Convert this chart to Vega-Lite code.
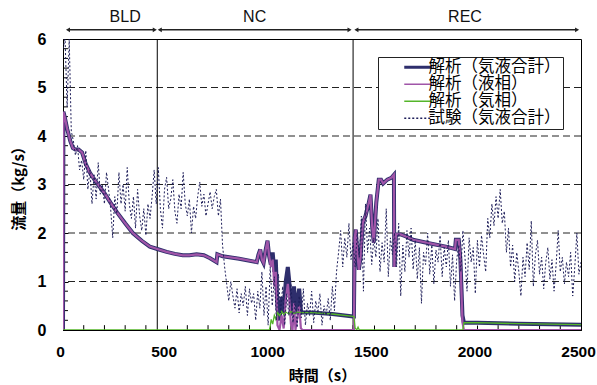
{
 "$schema": "https://vega.github.io/schema/vega-lite/v6.json",
 "width": 518, "height": 291,
 "autosize": "none",
 "padding": {"left": 63, "top": 39, "right": 16, "bottom": 55},
 "background": "white",
 "config": {"view": {"stroke": "black", "strokeWidth": 1}, "axis": {"labelOverlap": false, "labelFlush": false}},
 "datasets": {
  "gr": [{"y":1},{"y":2},{"y":3},{"y":4},{"y":5}],
  "ym": [{"y":0.2},{"y":0.4},{"y":0.6},{"y":0.8},{"y":1.2},{"y":1.4},{"y":1.6},{"y":1.8},{"y":2.2},{"y":2.4},{"y":2.6},{"y":2.8},{"y":3.2},{"y":3.4},{"y":3.6},{"y":3.8},{"y":4.2},{"y":4.4},{"y":4.6},{"y":4.8},{"y":5.2},{"y":5.4},{"y":5.6},{"y":5.8}],
  "xm": [{"t":100},{"t":200},{"t":300},{"t":400},{"t":600},{"t":700},{"t":800},{"t":900},{"t":1100},{"t":1200},{"t":1300},{"t":1400},{"t":1600},{"t":1700},{"t":1800},{"t":1900},{"t":2100},{"t":2200},{"t":2300},{"t":2400}],
  "bd": [{"t":455},{"t":1400}],
  "ph": [{"label":"BLD","a":24,"b":443,"m":300},{"label":"NC","a":467,"b":1383,"m":925},{"label":"REC","a":1416,"b":2481,"m":1940}],
  "total": [{"t":0,"v":0},{"t":2,"v":4.5},{"t":8,"v":4.4},{"t":20,"v":4.15},{"t":35,"v":3.9},{"t":48,"v":3.75},{"t":60,"v":3.72},{"t":75,"v":3.72},{"t":92,"v":3.66},{"t":110,"v":3.42},{"t":130,"v":3.24},{"t":155,"v":3.08},{"t":178,"v":2.95},{"t":200,"v":2.82},{"t":230,"v":2.62},{"t":260,"v":2.43},{"t":300,"v":2.2},{"t":337,"v":2.0},{"t":380,"v":1.84},{"t":419,"v":1.72},{"t":455,"v":1.67},{"t":500,"v":1.61},{"t":540,"v":1.57},{"t":578,"v":1.54},{"t":610,"v":1.54},{"t":645,"v":1.56},{"t":680,"v":1.54},{"t":710,"v":1.48},{"t":741,"v":1.4},{"t":745,"v":1.56},{"t":771,"v":1.52},{"t":850,"v":1.47},{"t":935,"v":1.4},{"t":943,"v":1.55},{"t":952,"v":1.66},{"t":960,"v":1.45},{"t":968,"v":1.38},{"t":978,"v":1.65},{"t":987,"v":1.84},{"t":995,"v":1.52},{"t":1003,"v":1.35},{"t":1012,"v":1.6},{"t":1020,"v":1.2},{"t":1027,"v":1.45},{"t":1035,"v":0.45},{"t":1045,"v":0.2},{"t":1055,"v":0.68},{"t":1065,"v":0.35},{"t":1075,"v":1.0},{"t":1085,"v":1.3},{"t":1092,"v":1.0},{"t":1100,"v":0.5},{"t":1108,"v":0.3},{"t":1115,"v":0.9},{"t":1122,"v":0.35},{"t":1130,"v":0.6},{"t":1140,"v":0.85},{"t":1148,"v":0.4},{"t":1155,"v":0.36},{"t":1200,"v":0.36},{"t":1300,"v":0.33},{"t":1400,"v":0.28},{"t":1404,"v":0.28},{"t":1408,"v":1.9},{"t":1413,"v":2.07},{"t":1420,"v":1.6},{"t":1428,"v":1.24},{"t":1436,"v":1.5},{"t":1447,"v":2.21},{"t":1460,"v":2.35},{"t":1476,"v":2.63},{"t":1484,"v":2.79},{"t":1492,"v":2.14},{"t":1500,"v":1.8},{"t":1512,"v":2.63},{"t":1524,"v":3.1},{"t":1535,"v":3.1},{"t":1545,"v":3.02},{"t":1565,"v":3.1},{"t":1585,"v":3.14},{"t":1597,"v":3.2},{"t":1599,"v":1.3},{"t":1607,"v":1.97},{"t":1630,"v":1.97},{"t":1655,"v":1.93},{"t":1689,"v":1.86},{"t":1766,"v":1.79},{"t":1848,"v":1.72},{"t":1892,"v":1.67},{"t":1896,"v":1.86},{"t":1910,"v":1.86},{"t":1918,"v":1.45},{"t":1928,"v":0.3},{"t":1935,"v":0.15},{"t":2000,"v":0.15},{"t":2200,"v":0.13},{"t":2500,"v":0.11}],
  "liq": [{"t":0,"v":0},{"t":2,"v":4.5},{"t":8,"v":4.4},{"t":20,"v":4.15},{"t":35,"v":3.9},{"t":48,"v":3.75},{"t":60,"v":3.72},{"t":75,"v":3.72},{"t":92,"v":3.66},{"t":110,"v":3.42},{"t":130,"v":3.24},{"t":155,"v":3.08},{"t":178,"v":2.95},{"t":200,"v":2.82},{"t":230,"v":2.62},{"t":260,"v":2.43},{"t":300,"v":2.2},{"t":337,"v":2.0},{"t":380,"v":1.84},{"t":419,"v":1.72},{"t":455,"v":1.67},{"t":500,"v":1.61},{"t":540,"v":1.57},{"t":578,"v":1.54},{"t":610,"v":1.54},{"t":645,"v":1.56},{"t":680,"v":1.54},{"t":710,"v":1.48},{"t":741,"v":1.4},{"t":745,"v":1.56},{"t":771,"v":1.52},{"t":850,"v":1.47},{"t":935,"v":1.4},{"t":943,"v":1.55},{"t":952,"v":1.66},{"t":960,"v":1.45},{"t":968,"v":1.38},{"t":978,"v":1.65},{"t":987,"v":1.84},{"t":995,"v":1.52},{"t":1000,"v":1.4},{"t":1003,"v":1.3},{"t":1012,"v":1.45},{"t":1020,"v":0.9},{"t":1027,"v":1.2},{"t":1035,"v":0.1},{"t":1045,"v":0},{"t":1055,"v":0.3},{"t":1065,"v":0.03},{"t":1075,"v":0.63},{"t":1085,"v":0.95},{"t":1092,"v":0.65},{"t":1100,"v":0.12},{"t":1108,"v":0},{"t":1115,"v":0.55},{"t":1122,"v":0},{"t":1130,"v":0.23},{"t":1140,"v":0.5},{"t":1148,"v":0.04},{"t":1155,"v":0},{"t":1404,"v":0},{"t":1408,"v":1.9},{"t":1413,"v":2.07},{"t":1420,"v":1.6},{"t":1428,"v":1.24},{"t":1436,"v":1.5},{"t":1447,"v":2.21},{"t":1460,"v":2.35},{"t":1476,"v":2.63},{"t":1484,"v":2.79},{"t":1492,"v":2.14},{"t":1500,"v":1.8},{"t":1512,"v":2.63},{"t":1524,"v":3.1},{"t":1535,"v":3.1},{"t":1545,"v":3.02},{"t":1565,"v":3.1},{"t":1585,"v":3.14},{"t":1597,"v":3.2},{"t":1599,"v":1.3},{"t":1607,"v":1.97},{"t":1630,"v":1.97},{"t":1655,"v":1.93},{"t":1689,"v":1.86},{"t":1766,"v":1.79},{"t":1848,"v":1.72},{"t":1892,"v":1.67},{"t":1896,"v":1.86},{"t":1910,"v":1.86},{"t":1918,"v":1.45},{"t":1928,"v":0.15},{"t":1935,"v":0},{"t":2500,"v":0}],
  "gas": [{"t":0,"v":0},{"t":996,"v":0},{"t":1000,"v":0.08},{"t":1005,"v":0.22},{"t":1012,"v":0.12},{"t":1020,"v":0.3},{"t":1027,"v":0.22},{"t":1035,"v":0.36},{"t":1045,"v":0.3},{"t":1055,"v":0.38},{"t":1065,"v":0.32},{"t":1075,"v":0.37},{"t":1090,"v":0.33},{"t":1100,"v":0.38},{"t":1115,"v":0.34},{"t":1130,"v":0.37},{"t":1150,"v":0.36},{"t":1200,"v":0.36},{"t":1300,"v":0.33},{"t":1400,"v":0.28},{"t":1404,"v":0.28},{"t":1410,"v":0.04},{"t":1418,"v":0},{"t":1424,"v":0.06},{"t":1430,"v":0},{"t":1930,"v":0},{"t":1935,"v":0.15},{"t":2000,"v":0.15},{"t":2200,"v":0.13},{"t":2500,"v":0.11}],
  "exp": [{"t":0,"v":5.8},{"t":10,"v":6.0},{"t":20,"v":4.6},{"t":30,"v":6.0},{"t":40,"v":4.1},{"t":50,"v":3.9},{"t":60,"v":3.6},{"t":70,"v":3.8},{"t":80,"v":3.3},{"t":90,"v":3.5},{"t":100,"v":3.1},{"t":110,"v":3.7},{"t":120,"v":2.9},{"t":130,"v":3.3},{"t":140,"v":2.6},{"t":150,"v":3.2},{"t":160,"v":2.7},{"t":170,"v":3.45},{"t":180,"v":2.8},{"t":190,"v":3.0},{"t":200,"v":2.6},{"t":210,"v":3.25},{"t":220,"v":2.9},{"t":230,"v":2.5},{"t":240,"v":1.9},{"t":250,"v":2.75},{"t":260,"v":2.4},{"t":270,"v":3.25},{"t":280,"v":2.6},{"t":290,"v":3.0},{"t":300,"v":2.45},{"t":310,"v":3.35},{"t":320,"v":2.6},{"t":330,"v":2.3},{"t":340,"v":2.75},{"t":350,"v":2.1},{"t":360,"v":2.9},{"t":370,"v":2.35},{"t":380,"v":2.05},{"t":390,"v":2.5},{"t":400,"v":1.95},{"t":410,"v":2.6},{"t":420,"v":2.3},{"t":430,"v":2.75},{"t":440,"v":3.3},{"t":450,"v":2.6},{"t":460,"v":3.35},{"t":470,"v":2.5},{"t":480,"v":2.1},{"t":490,"v":2.9},{"t":500,"v":3.15},{"t":510,"v":2.5},{"t":520,"v":2.7},{"t":530,"v":3.1},{"t":540,"v":2.45},{"t":550,"v":2.2},{"t":560,"v":2.8},{"t":570,"v":2.5},{"t":580,"v":3.25},{"t":590,"v":2.6},{"t":600,"v":2.35},{"t":610,"v":2.7},{"t":620,"v":2.0},{"t":630,"v":2.55},{"t":640,"v":2.3},{"t":650,"v":2.75},{"t":660,"v":3.05},{"t":670,"v":2.55},{"t":680,"v":2.8},{"t":690,"v":2.35},{"t":700,"v":2.6},{"t":710,"v":2.85},{"t":720,"v":2.5},{"t":730,"v":2.75},{"t":740,"v":2.9},{"t":750,"v":2.35},{"t":760,"v":2.7},{"t":770,"v":1.75},{"t":780,"v":1.3},{"t":790,"v":0.95},{"t":800,"v":0.6},{"t":810,"v":1.0},{"t":820,"v":0.7},{"t":830,"v":0.45},{"t":840,"v":0.85},{"t":850,"v":0.35},{"t":860,"v":0.75},{"t":870,"v":0.5},{"t":880,"v":0.9},{"t":890,"v":0.3},{"t":900,"v":0.85},{"t":910,"v":0.55},{"t":920,"v":0.75},{"t":930,"v":0.2},{"t":940,"v":0.8},{"t":950,"v":0.45},{"t":960,"v":1.2},{"t":970,"v":0.3},{"t":980,"v":0.9},{"t":990,"v":0.1},{"t":1000,"v":1.3},{"t":1010,"v":0.5},{"t":1020,"v":1.1},{"t":1030,"v":0.2},{"t":1040,"v":1.15},{"t":1050,"v":0.35},{"t":1060,"v":0.9},{"t":1070,"v":0.1},{"t":1080,"v":0.75},{"t":1090,"v":0.3},{"t":1100,"v":0.95},{"t":1110,"v":0.15},{"t":1120,"v":0.6},{"t":1130,"v":0.05},{"t":1140,"v":0.7},{"t":1150,"v":0.25},{"t":1160,"v":0.85},{"t":1170,"v":0.1},{"t":1180,"v":0.55},{"t":1190,"v":0.3},{"t":1200,"v":0.8},{"t":1210,"v":0.15},{"t":1220,"v":0.6},{"t":1230,"v":0.35},{"t":1240,"v":0.75},{"t":1250,"v":0.1},{"t":1260,"v":0.5},{"t":1270,"v":0.3},{"t":1280,"v":0.65},{"t":1290,"v":0.2},{"t":1300,"v":0.9},{"t":1310,"v":0.4},{"t":1320,"v":1.2},{"t":1330,"v":1.6},{"t":1340,"v":2.05},{"t":1350,"v":1.3},{"t":1360,"v":1.9},{"t":1370,"v":1.5},{"t":1380,"v":2.2},{"t":1390,"v":1.45},{"t":1400,"v":1.8},{"t":1410,"v":1.3},{"t":1420,"v":2.0},{"t":1430,"v":1.5},{"t":1440,"v":2.35},{"t":1450,"v":0.8},{"t":1460,"v":2.6},{"t":1470,"v":1.6},{"t":1480,"v":2.1},{"t":1490,"v":1.35},{"t":1500,"v":1.9},{"t":1510,"v":1.5},{"t":1520,"v":2.3},{"t":1530,"v":1.2},{"t":1540,"v":1.8},{"t":1550,"v":1.4},{"t":1560,"v":2.5},{"t":1570,"v":1.1},{"t":1580,"v":1.9},{"t":1590,"v":1.55},{"t":1600,"v":2.0},{"t":1610,"v":1.3},{"t":1620,"v":2.2},{"t":1630,"v":0.7},{"t":1640,"v":1.75},{"t":1650,"v":1.2},{"t":1660,"v":2.05},{"t":1670,"v":1.5},{"t":1680,"v":2.1},{"t":1690,"v":1.25},{"t":1700,"v":1.85},{"t":1710,"v":1.05},{"t":1720,"v":1.7},{"t":1730,"v":0.55},{"t":1740,"v":1.6},{"t":1750,"v":1.35},{"t":1760,"v":2.0},{"t":1770,"v":1.15},{"t":1780,"v":1.75},{"t":1790,"v":0.95},{"t":1800,"v":1.65},{"t":1810,"v":1.4},{"t":1820,"v":1.95},{"t":1830,"v":1.1},{"t":1840,"v":1.7},{"t":1850,"v":1.3},{"t":1860,"v":1.85},{"t":1870,"v":0.9},{"t":1880,"v":1.55},{"t":1890,"v":0.6},{"t":1900,"v":1.45},{"t":1910,"v":1.75},{"t":1920,"v":1.2},{"t":1930,"v":2.05},{"t":1940,"v":1.5},{"t":1950,"v":0.8},{"t":1960,"v":1.9},{"t":1970,"v":1.4},{"t":1980,"v":1.7},{"t":1990,"v":0.75},{"t":2000,"v":1.85},{"t":2010,"v":1.3},{"t":2020,"v":1.95},{"t":2030,"v":1.55},{"t":2040,"v":1.2},{"t":2050,"v":2.3},{"t":2060,"v":1.9},{"t":2070,"v":2.6},{"t":2080,"v":2.15},{"t":2090,"v":2.75},{"t":2100,"v":2.3},{"t":2110,"v":2.9},{"t":2120,"v":2.2},{"t":2130,"v":2.45},{"t":2140,"v":1.6},{"t":2150,"v":2.1},{"t":2160,"v":1.3},{"t":2170,"v":1.75},{"t":2180,"v":1.0},{"t":2190,"v":1.6},{"t":2200,"v":1.2},{"t":2210,"v":0.7},{"t":2220,"v":1.5},{"t":2230,"v":1.1},{"t":2240,"v":1.8},{"t":2250,"v":1.25},{"t":2260,"v":2.25},{"t":2270,"v":0.9},{"t":2280,"v":1.55},{"t":2290,"v":1.85},{"t":2300,"v":1.15},{"t":2310,"v":1.5},{"t":2320,"v":0.85},{"t":2330,"v":1.4},{"t":2340,"v":1.7},{"t":2350,"v":1.05},{"t":2360,"v":1.45},{"t":2370,"v":0.8},{"t":2380,"v":1.35},{"t":2390,"v":2.05},{"t":2400,"v":1.2},{"t":2410,"v":1.5},{"t":2420,"v":0.95},{"t":2430,"v":1.4},{"t":2440,"v":1.1},{"t":2450,"v":1.6},{"t":2460,"v":0.7},{"t":2470,"v":1.3},{"t":2480,"v":2.0},{"t":2490,"v":1.15},{"t":2500,"v":1.4}]
 },
 "layer": [
  {
   "data": {"name": "gr"},
   "mark": {"type": "rule", "color": "#222222", "strokeWidth": 1, "strokeDash": [7, 4]},
   "encoding": {
    "y": {"field": "y", "type": "quantitative",
     "scale": {"domain": [0, 6], "nice": false, "zero": true},
     "axis": {"values": [0, 1, 2, 3, 4, 5, 6],
      "labelOverlap": false, "labelFlush": false,
      "grid": false, "tickSize": -5, "tickColor": "black", "domainColor": "black",
      "labelFont": "Liberation Sans", "labelFontWeight": "bold", "labelFontSize": 16, "labelColor": "black", "labelPadding": 22,
      "title": "流量（kg/s）", "titleFont": "Noto Sans CJK JP", "titleFontWeight": "bold", "titleFontSize": 15, "titleColor": "black", "titlePadding": 11}}
   }
  },
  {
   "data": {"name": "bd"},
   "mark": {"type": "rule", "color": "black", "strokeWidth": 1},
   "encoding": {
    "x": {"field": "t", "type": "quantitative",
     "scale": {"domain": [0, 2500], "nice": false, "zero": true},
     "axis": {"values": [0, 500, 1000, 1500, 2000, 2500],
      "labelOverlap": false, "labelFlush": false, "labelOffset": -3,
      "format": "d",
      "grid": false, "tickSize": -5, "tickColor": "black", "domainColor": "black",
      "labelFont": "Liberation Sans", "labelFontWeight": "bold", "labelFontSize": 15.5, "labelColor": "black", "labelPadding": 19,
      "title": "時間（s）", "titleFont": "Noto Sans CJK JP", "titleFontWeight": "bold", "titleFontSize": 15, "titleColor": "black", "titlePadding": 9}}
   }
  },
  {
   "data": {"name": "ym"},
   "mark": {"type": "rule", "color": "black", "strokeWidth": 1},
   "encoding": {
    "y": {"field": "y", "type": "quantitative"},
    "x": {"datum": 0},
    "x2": {"datum": 24}
   }
  },
  {
   "data": {"name": "xm"},
   "mark": {"type": "rule", "color": "black", "strokeWidth": 1},
   "encoding": {
    "x": {"field": "t", "type": "quantitative"},
    "y": {"datum": 0},
    "y2": {"datum": 0.1}
   }
  },
  {
   "data": {"name": "total"},
   "mark": {"type": "line", "strokeWidth": 4, "clip": true},
   "encoding": {
    "x": {"field": "t", "type": "quantitative"},
    "y": {"field": "v", "type": "quantitative"},
    "color": {"datum": "解析（気液合計）", "type": "nominal",
     "scale": {"domain": ["解析（気液合計）", "解析（液相）", "解析（気相）", "試験（気液合計）"], "range": ["#2e2e6c", "#a055a8", "#55b52a", "#1e1e5a"]},
     "legend": {"title": null, "orient": "top-right", "offset": 18, "fillColor": "white", "strokeColor": "#222222", "padding": 2,
      "symbolType": "stroke", "symbolSize": 784, "symbolOffset": 30, "symbolStrokeWidth": 1.5, "labelOffset": 2,
      "labelFont": "Noto Sans CJK JP", "labelFontSize": 16.5, "labelColor": "black", "rowPadding": -2, "labelLimit": 300,
      "labelExpr": "datum.label + '\u3000'",
      "encode": {"symbols": {"update": {
        "strokeWidth": {"signal": "datum.value === '解析（気液合計）' ? 3 : 1.3"},
        "strokeDash": {"signal": "datum.value === '試験（気液合計）' ? [2, 2] : [1, 0]"}}}}}}
   }
  },
  {
   "data": {"name": "liq"},
   "mark": {"type": "line", "strokeWidth": 2.2, "clip": true},
   "encoding": {
    "x": {"field": "t", "type": "quantitative"},
    "y": {"field": "v", "type": "quantitative"},
    "color": {"datum": "解析（液相）", "type": "nominal"}
   }
  },
  {
   "data": {"name": "gas"},
   "mark": {"type": "line", "strokeWidth": 1.3, "clip": true},
   "encoding": {
    "x": {"field": "t", "type": "quantitative"},
    "y": {"field": "v", "type": "quantitative"},
    "color": {"datum": "解析（気相）", "type": "nominal"}
   }
  },
  {
   "data": {"name": "exp"},
   "mark": {"type": "line", "strokeWidth": 1, "strokeDash": [2, 2], "clip": true},
   "encoding": {
    "x": {"field": "t", "type": "quantitative"},
    "y": {"field": "v", "type": "quantitative"},
    "color": {"datum": "試験（気液合計）", "type": "nominal"}
   }
  },
  {
   "data": {"name": "ph"},
   "mark": {"type": "rule", "color": "#222222", "strokeWidth": 1.5},
   "encoding": {
    "x": {"field": "a", "type": "quantitative"},
    "x2": {"field": "b"},
    "y": {"datum": 6.19}
   }
  },
  {
   "data": {"name": "ph"},
   "mark": {"type": "point", "shape": "triangle-left", "filled": true, "color": "#222222", "size": 22, "opacity": 1},
   "encoding": {
    "x": {"field": "a", "type": "quantitative"},
    "y": {"datum": 6.19}
   }
  },
  {
   "data": {"name": "ph"},
   "mark": {"type": "point", "shape": "triangle-right", "filled": true, "color": "#222222", "size": 22, "opacity": 1},
   "encoding": {
    "x": {"field": "b", "type": "quantitative"},
    "y": {"datum": 6.19}
   }
  },
  {
   "data": {"name": "ph"},
   "mark": {"type": "text", "font": "Liberation Sans", "fontSize": 16, "color": "#111111", "baseline": "middle"},
   "encoding": {
    "x": {"field": "m", "type": "quantitative"},
    "y": {"datum": 6.45},
    "text": {"field": "label"}
   }
  }
 ]
}
